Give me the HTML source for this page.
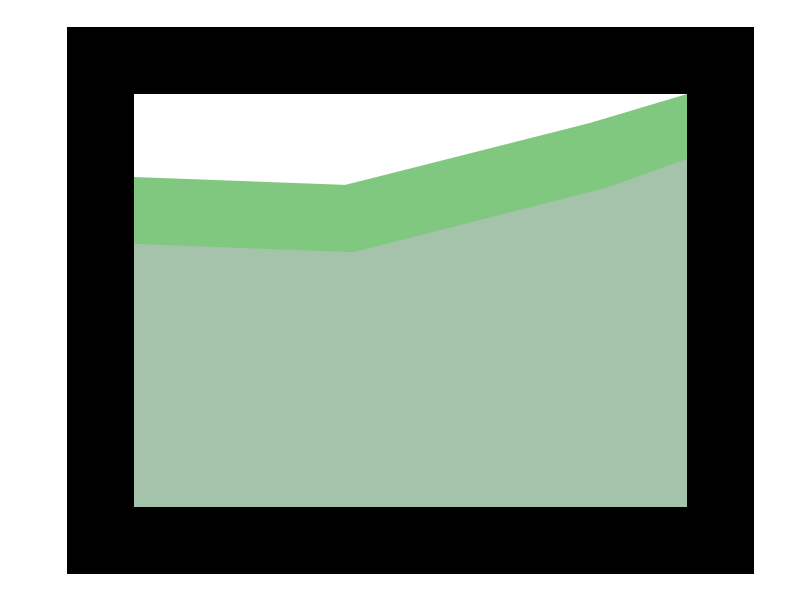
<!DOCTYPE html>
<html><head><meta charset="utf-8"><style>
html,body{margin:0;padding:0;background:#fff;}
svg{display:block;}
</style></head><body>
<svg id="chart" width="800" height="600" xmlns="http://www.w3.org/2000/svg">
<rect x="67" y="27" width="687" height="547" fill="#000"/>
<rect x="134" y="94" width="553" height="413" fill="#fff"/>
<g id="areas"></g>
</svg>
<script>
const upperX = [0, 38.2, 82.5, 100];
const upperY = [79.9, 78.0, 93.0, 100];
const lowerX = [0, 39.6, 85.2, 100];
const lowerY = [63.7, 61.7, 77.2, 84.3];

const px0 = 134, px1 = 687, py0 = 507, py1 = 94;
function sx(v){ return px0 + (v/100)*(px1-px0); }
function sy(v){ return py0 - (v/100)*(py0-py1); }
function areaPath(xs, ys){
  let d = 'M' + sx(xs[0]) + ',' + sy(0);
  for (let i=0;i<xs.length;i++) d += ' L' + sx(xs[i]) + ',' + sy(ys[i]);
  d += ' L' + sx(xs[xs.length-1]) + ',' + sy(0) + ' Z';
  return d;
}
const g = document.getElementById('areas');
const ns = 'http://www.w3.org/2000/svg';
const up = document.createElementNS(ns,'path');
up.setAttribute('d', areaPath(upperX, upperY));
up.setAttribute('fill', '#80c880');


g.appendChild(up);
const lo = document.createElementNS(ns,'path');
lo.setAttribute('d', areaPath(lowerX, lowerY));
lo.setAttribute('fill', '#a5c3ab');


g.appendChild(lo);
</script>
</body></html>
